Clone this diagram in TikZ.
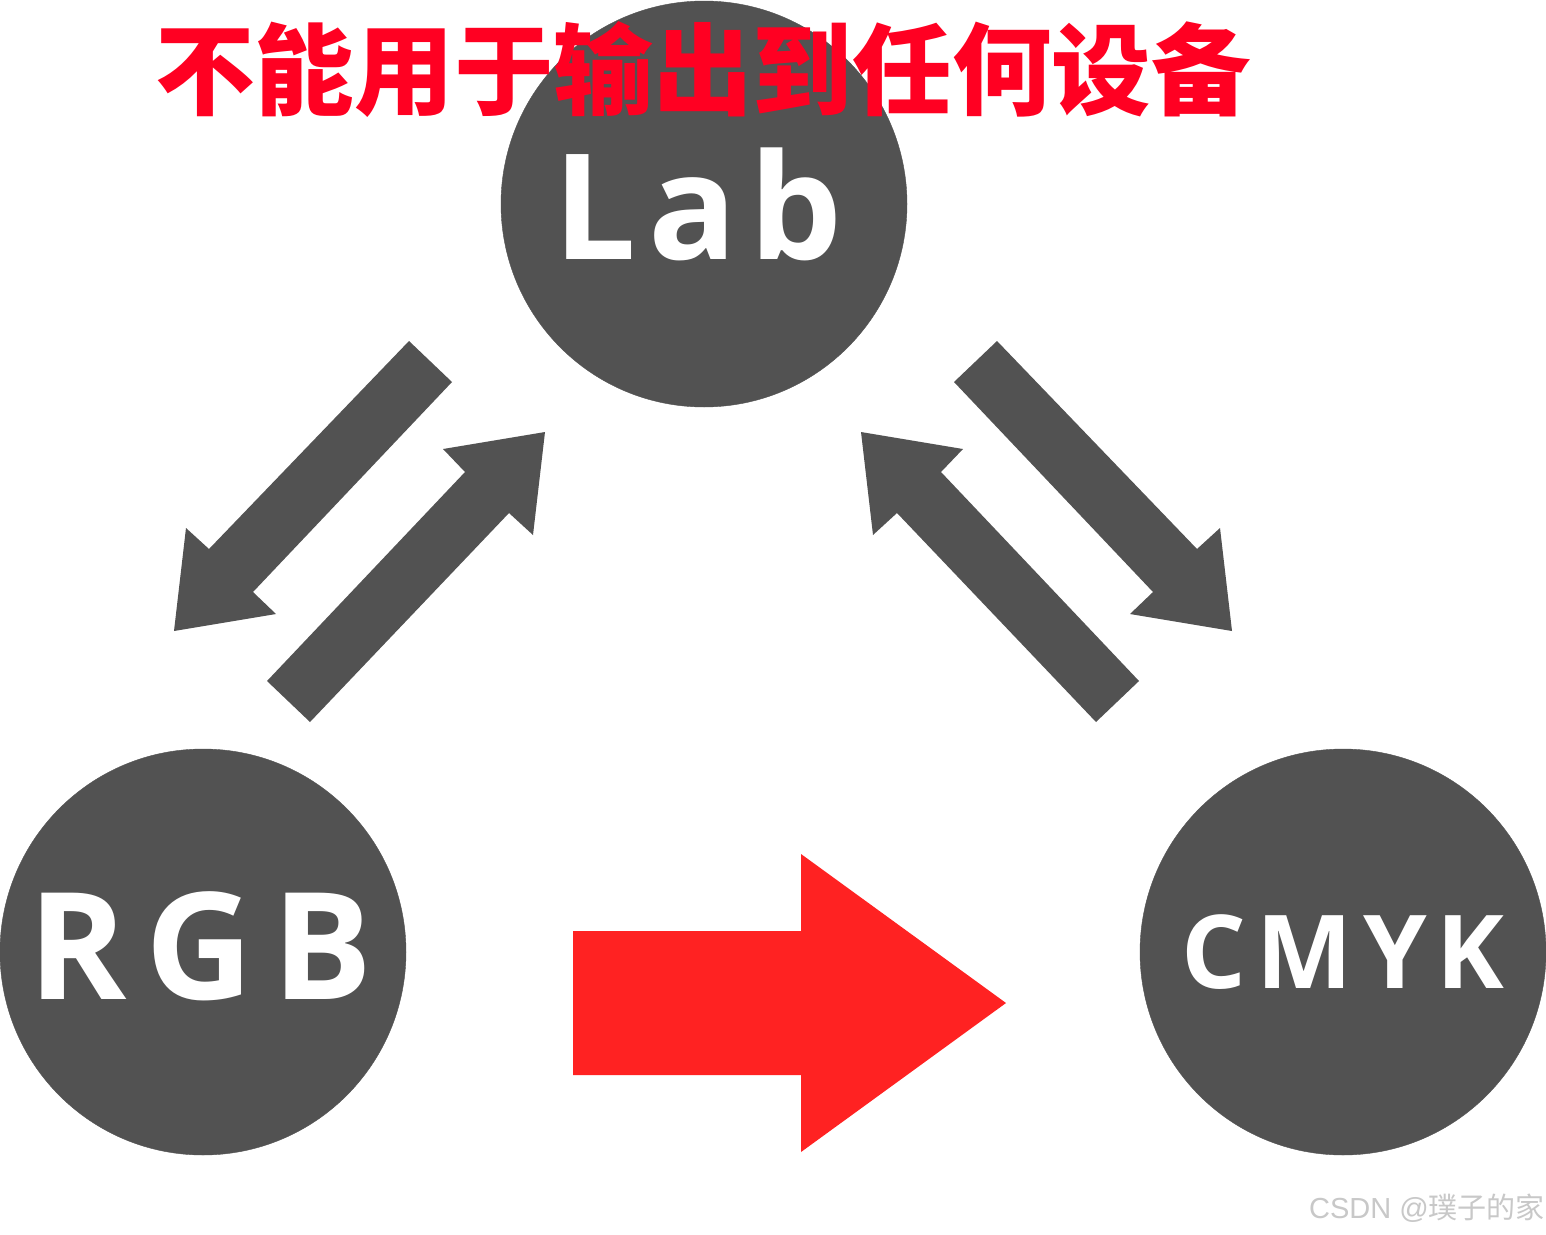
\documentclass[tikz,border=0pt]{standalone}
\usepackage{fontspec}
\setmainfont{Open Sans}
\newfontfamily\cjk{Noto Sans CJK SC}
\newfontfamily\wmfont{Liberation Sans}
\definecolor{node}{HTML}{525252}
\definecolor{titlered}{HTML}{FF0022}
\definecolor{bigred}{HTML}{FF2222}
\definecolor{mark}{HTML}{C8C8C8}
\tikzset{
  space/.style={circle, fill=node, draw=node, minimum size=406pt, inner sep=0pt},
  label/.style={text=white, inner sep=0pt, anchor=base, font=\bfseries\fontsize{148}{148}\selectfont\addfontfeature{LetterSpace=12}},
  blockarrow/.style={fill=node, draw=none},
}
\begin{document}
\begin{tikzpicture}[x=1pt, y=-1pt]
\useasboundingbox (0,0) rectangle (1546,1234);
\fill[white] (0,0) rectangle (1546,1234);
\node[space] (lab) at (704,204) {};
\node[space] (rgb) at (203,952) {};
\node[space] (cmyk) at (1343,952) {};
\node[label, font=\bfseries\fontsize{147}{147}\selectfont\addfontfeature{LetterSpace=8}] (labt) at (698,259) {Lab};
\node[label, font=\bfseries\fontsize{149}{149}\selectfont\addfontfeature{LetterSpace=12.5}] (rgbt) at (200.5,999) {RGB};
\node[label, font=\bfseries\fontsize{102}{102}\selectfont\addfontfeature{LetterSpace=10}] (cmykt) at (1343,988) {CMYK};
% Lab -> RGB
\fill[blockarrow] (409,341) -- (452,382) -- (253,592) -- (276,614) -- (174,631) -- (186,528) -- (209,549) -- cycle;
% RGB -> Lab
\fill[blockarrow] (267,681) -- (310,722) -- (509,513) -- (533,535) -- (545,432) -- (443,449) -- (465,472) -- cycle;
% Lab -> CMYK
\fill[blockarrow] (997,341) -- (954,382) -- (1153,592) -- (1130,614) -- (1232,631) -- (1220,528) -- (1197,549) -- cycle;
% CMYK -> Lab
\fill[blockarrow] (1139,681) -- (1096,722) -- (897,513) -- (873,535) -- (861,432) -- (963,449) -- (941,472) -- cycle;
% red arrow
\fill[bigred] (573,931) -- (801,931) -- (801,854) -- (1006,1003) -- (801,1152) -- (801,1075) -- (573,1075) -- cycle;
\node[anchor=base west, inner sep=0pt, text=titlered, font=\cjk\bfseries\fontsize{99.6}{99.6}\selectfont] (title) at (155,107.5) {不能用于输出到任何设备};
\node[anchor=base east, inner sep=0pt, text=mark, font=\wmfont\fontsize{29}{29}\selectfont] (wm) at (1545,1218) {CSDN @{\cjk 璞子的家}};
\end{tikzpicture}
\end{document}
